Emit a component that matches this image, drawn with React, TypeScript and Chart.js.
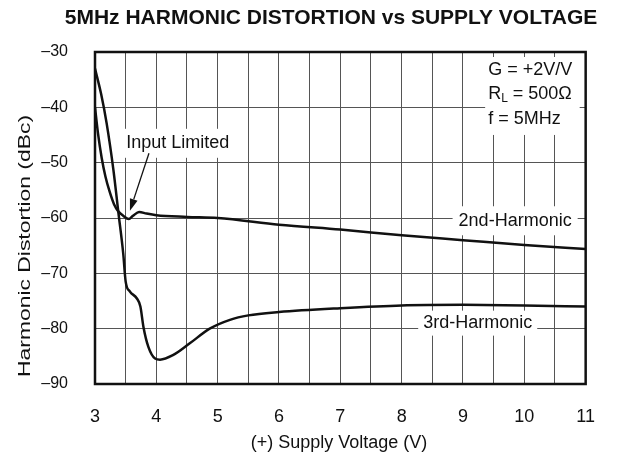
import React, { useEffect, useRef } from 'react';
import { Chart, registerables } from 'chart.js';

Chart.register(...registerables);

// ---------- data ----------
const TITLE = '5MHz HARMONIC DISTORTION vs SUPPLY VOLTAGE';
const X_TITLE = '(+) Supply Voltage (V)';
const Y_TITLE = 'Harmonic Distortion (dBc)';

const X_MIN = 3;
const X_MAX = 11;
const X_STEP = 0.5;
const Y_MIN = -90;
const Y_MAX = -30;
const Y_STEP = 10;

// 2nd-Harmonic
const volt2 = [3.0, 3.05, 3.11, 3.17, 3.24, 3.31, 3.38, 3.46, 3.55, 3.62, 3.72, 3.84, 4.0, 4.5, 5, 6, 7, 8, 9, 10, 11];
const harm2 = [-40, -44.8, -49.2, -52.5, -55.3, -57.5, -58.8, -59.6, -60.2, -59.6, -58.9, -59.2, -59.5, -59.8, -60.0, -61.2, -62.1, -63.1, -64.0, -64.9, -65.6];

// 3rd-Harmonic
const volt3 = [3.0, 3.1, 3.19, 3.3, 3.38, 3.46, 3.5, 3.57, 3.68, 3.74, 3.79, 3.87, 3.98, 4.06, 4.27, 4.54, 4.87, 5.2, 5.5, 6, 7, 8, 9, 10, 11];
const harm3 = [-33, -37.6, -42.9, -51.3, -58.9, -66.4, -71.5, -73.3, -74.5, -76.0, -79.7, -83.3, -85.4, -85.6, -84.8, -82.7, -80.0, -78.4, -77.6, -77.0, -76.3, -75.8, -75.7, -75.8, -76.0];

// annotations (data coordinates)
const LABEL_2ND = { text: '2nd-Harmonic', x: 9.85, y: -60.5 };
const LABEL_3RD = { text: '3rd-Harmonic', x: 9.24, y: -79.0 };
const LABEL_INPUT = { text: 'Input Limited', x: 4.35, y: -46.5 };
const ARROW_FROM = { x: 3.88, y: -48.3 };
const ARROW_TO = { x: 3.57, y: -58.7 };
const COND_X = 9.41;
const COND_Y = [-33.25, -37.6, -42.1];
const COND_LINES = [
  { main: 'G = +2V/V', sub: '', rest: '' },
  { main: 'R', sub: 'L', rest: ' = 500Ω' },
  { main: 'f = 5MHz', sub: '', rest: '' },
];

const FONT = '"Liberation Sans", Arial, Helvetica, sans-serif';
const INK = '#111';

function drawBoxedLabel(ctx: CanvasRenderingContext2D, chart: any, lbl: { text: string; x: number; y: number }, padX: number, halfH: number) {
  const { x, y } = chart.scales;
  const px = x.getPixelForValue(lbl.x);
  const py = y.getPixelForValue(lbl.y);
  ctx.font = `18px ${FONT}`;
  const w = ctx.measureText(lbl.text).width;
  ctx.fillStyle = '#fff';
  ctx.fillRect(px - w / 2 - padX, py - halfH, w + 2 * padX, 2 * halfH);
  ctx.fillStyle = INK;
  ctx.textAlign = 'center';
  ctx.textBaseline = 'middle';
  ctx.fillText(lbl.text, px, py);
}

const decorPlugin = {
  id: 'decor',
  beforeDatasetsDraw(chart: any) {
    const { ctx, chartArea, scales } = chart;
    const { x, y } = scales;
    ctx.save();
    drawBoxedLabel(ctx, chart, LABEL_2ND, 6, 14.5);
    drawBoxedLabel(ctx, chart, LABEL_3RD, 5, 12.5);
    drawBoxedLabel(ctx, chart, LABEL_INPUT, 5, 14.5);

    // conditions box
    const cx = x.getPixelForValue(COND_X);
    const ys = COND_Y.map((v) => y.getPixelForValue(v));
    ctx.fillStyle = '#fff';
    ctx.fillRect(cx - 3, chartArea.top + 5, chartArea.right - 6 - (cx - 3), ys[2] + 16 - (chartArea.top + 5));
    ctx.fillStyle = INK;
    ctx.textAlign = 'left';
    ctx.textBaseline = 'middle';
    COND_LINES.forEach((ln, i) => {
      let px = cx;
      ctx.font = `18px ${FONT}`;
      ctx.fillText(ln.main, px, ys[i]);
      px += ctx.measureText(ln.main).width;
      if (ln.sub) {
        ctx.font = `12px ${FONT}`;
        ctx.fillText(ln.sub, px, ys[i] + 5);
        px += ctx.measureText(ln.sub).width;
      }
      if (ln.rest) {
        ctx.font = `18px ${FONT}`;
        ctx.fillText(ln.rest, px, ys[i]);
      }
    });
    ctx.restore();
  },
  afterDatasetsDraw(chart: any) {
    const { ctx, chartArea, scales } = chart;
    const { x, y } = scales;
    ctx.save();
    // frame
    ctx.strokeStyle = INK;
    ctx.lineWidth = 2.5;
    ctx.strokeRect(chartArea.left, chartArea.top, chartArea.right - chartArea.left, chartArea.bottom - chartArea.top);

    // arrow
    const x0 = x.getPixelForValue(ARROW_FROM.x);
    const y0 = y.getPixelForValue(ARROW_FROM.y);
    const x1 = x.getPixelForValue(ARROW_TO.x);
    const y1 = y.getPixelForValue(ARROW_TO.y);
    const ang = Math.atan2(y1 - y0, x1 - x0);
    const headL = 12;
    const headW = 4;
    const bx = x1 - headL * Math.cos(ang);
    const by = y1 - headL * Math.sin(ang);
    ctx.lineWidth = 1.3;
    ctx.beginPath();
    ctx.moveTo(x0, y0);
    ctx.lineTo(bx, by);
    ctx.stroke();
    ctx.fillStyle = INK;
    ctx.beginPath();
    ctx.moveTo(x1, y1);
    ctx.lineTo(bx + headW * Math.sin(ang), by - headW * Math.cos(ang));
    ctx.lineTo(bx - headW * Math.sin(ang), by + headW * Math.cos(ang));
    ctx.closePath();
    ctx.fill();
    ctx.restore();
  },
  afterDraw(chart: any) {
    const { ctx } = chart;
    ctx.save();
    ctx.fillStyle = INK;
    ctx.textAlign = 'center';
    ctx.textBaseline = 'middle';
    // title
    ctx.font = `bold 21px ${FONT}`;
    ctx.fillText(TITLE, 331, 18);
    // x title
    ctx.font = `18px ${FONT}`;
    ctx.fillText(X_TITLE, 339, 443);
    // y title
    ctx.save();
    ctx.translate(25, 246);
    ctx.rotate(-Math.PI / 2);
    ctx.font = `17px ${FONT}`;
    const w = ctx.measureText(Y_TITLE).width;
    ctx.scale(262 / w, 1);
    ctx.fillText(Y_TITLE, 0, 0);
    ctx.restore();
    ctx.restore();
  },
};

export default function App() {
  const ref = useRef<HTMLCanvasElement | null>(null);

  useEffect(() => {
    if (!ref.current) return;
    const chart = new Chart(ref.current, {
      type: 'line',
      data: {
        datasets: [
          {
            label: '2nd-Harmonic',
            data: volt2.map((v, i) => ({ x: v, y: harm2[i] })),
            borderColor: INK,
            borderWidth: 2.5,
            pointRadius: 0,
            cubicInterpolationMode: 'monotone',
            fill: false,
          },
          {
            label: '3rd-Harmonic',
            data: volt3.map((v, i) => ({ x: v, y: harm3[i] })),
            borderColor: INK,
            borderWidth: 2.5,
            pointRadius: 0,
            cubicInterpolationMode: 'monotone',
            fill: false,
          },
        ],
      },
      options: {
        animation: false,
        responsive: false,
        devicePixelRatio: 1,
        layout: { padding: { top: 52, right: 30, left: 0, bottom: 0 } },
        plugins: {
          legend: { display: false },
          title: { display: false },
          tooltip: { enabled: false },
        },
        scales: {
          x: {
            type: 'linear',
            min: X_MIN,
            max: X_MAX,
            afterFit: (s: any) => { s.height = 74; },
            ticks: {
              stepSize: X_STEP,
              autoSkip: false,
              maxRotation: 0,
              padding: 22,
              color: INK,
              font: { family: FONT, size: 18 },
              callback: (v: any) => (Number.isInteger(v) ? String(v) : ''),
            },
            grid: { color: '#555', lineWidth: 1, drawTicks: false },
            border: { display: false },
          },
          y: {
            type: 'linear',
            min: Y_MIN,
            max: Y_MAX,
            afterFit: (s: any) => { s.width = 95; },
            ticks: {
              stepSize: Y_STEP,
              padding: 27,
              color: INK,
              font: { family: FONT, size: 16 },
              callback: (v: any) => (v < 0 ? '\u2013' + Math.abs(v) : String(v)),
            },
            grid: { color: '#555', lineWidth: 1, drawTicks: false },
            border: { display: false },
          },
        },
      },
      plugins: [decorPlugin],
    } as any);
    return () => chart.destroy();
  }, []);

  return (
    <div style={{ position: 'fixed', left: 0, top: 0, width: 617, height: 458, background: '#fff' }}>
      <canvas ref={ref} width={617} height={458} style={{ display: 'block', width: 617, height: 458 }} />
    </div>
  );
}
